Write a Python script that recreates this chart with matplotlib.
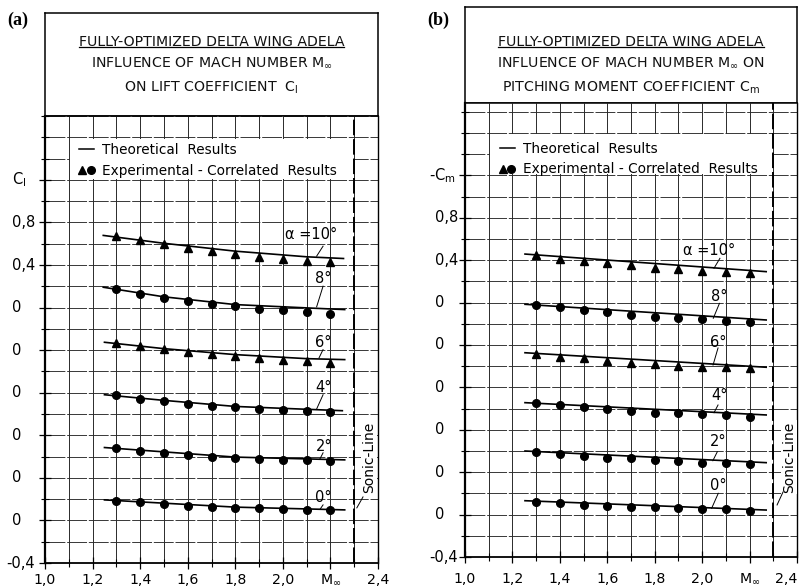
import matplotlib
matplotlib.use('Agg')
import matplotlib.pyplot as plt
import matplotlib.transforms as mtransforms
from matplotlib.lines import Line2D
from matplotlib.legend_handler import HandlerTuple
from matplotlib.patches import Rectangle

plt.rcParams['font.family'] = ['DejaVu Sans']
plt.rcParams['mathtext.default'] = 'regular'

# ---- data (y in the chart's own stacked scale) ----
mach_exp = [1.3, 1.4, 1.5, 1.6, 1.7, 1.8, 1.9, 2.0, 2.1, 2.2]
angle_labels = ['0°', '2°', '4°', '6°', '8°', 'α =10°']

cl_exp_0 = [0.187, 0.171, 0.155, 0.140, 0.130, 0.120, 0.115, 0.108, 0.099, 0.099]
cl_exp_2 = [0.679, 0.657, 0.638, 0.617, 0.600, 0.585, 0.576, 0.569, 0.569, 0.554]
cl_exp_4 = [1.175, 1.144, 1.118, 1.097, 1.071, 1.062, 1.049, 1.040, 1.024, 1.015]
cl_exp_6 = [1.668, 1.642, 1.611, 1.583, 1.564, 1.542, 1.526, 1.504, 1.495, 1.480]
cl_exp_8 = [2.179, 2.132, 2.091, 2.059, 2.038, 2.019, 1.988, 1.981, 1.956, 1.944]
cl_exp_10 = [2.671, 2.631, 2.593, 2.562, 2.530, 2.508, 2.474, 2.452, 2.436, 2.426]

cl_th_mach_0 = [1.25, 1.8, 2.26]
cl_th_0 = [0.193, 0.125, 0.099]
cl_th_mach_2 = [1.25, 1.8, 2.26]
cl_th_2 = [0.685, 0.595, 0.569]
cl_th_mach_4 = [1.25, 1.5, 1.8, 2.25]
cl_th_4 = [1.181, 1.128, 1.071, 1.031]
cl_th_mach_6 = [1.25, 1.5, 1.8, 2.1, 2.26]
cl_th_6 = [1.674, 1.614, 1.558, 1.520, 1.511]
cl_th_mach_8 = [1.245, 1.5, 1.8, 2.1, 2.26]
cl_th_8 = [2.191, 2.101, 2.028, 1.997, 1.981]
cl_th_mach_10 = [1.245, 1.5, 1.8, 2.1, 2.255]
cl_th_10 = [2.678, 2.604, 2.530, 2.477, 2.461]

cm_exp_0 = [0.122, 0.106, 0.091, 0.081, 0.075, 0.069, 0.059, 0.050, 0.050, 0.037]
cm_exp_2 = [0.593, 0.569, 0.553, 0.537, 0.531, 0.515, 0.508, 0.490, 0.484, 0.477]
cm_exp_4 = [1.050, 1.034, 1.012, 0.993, 0.977, 0.961, 0.955, 0.946, 0.940, 0.924]
cm_exp_6 = [1.515, 1.490, 1.474, 1.452, 1.433, 1.418, 1.405, 1.395, 1.395, 1.380]
cm_exp_8 = [1.977, 1.955, 1.930, 1.908, 1.883, 1.867, 1.852, 1.842, 1.829, 1.820]
cm_exp_10 = [2.449, 2.411, 2.395, 2.371, 2.355, 2.329, 2.314, 2.301, 2.292, 2.276]

cm_th_mach = [1.253, 2.27]
cm_th_0 = [0.131, 0.043]
cm_th_2 = [0.600, 0.490]
cm_th_4 = [1.056, 0.940]
cm_th_6 = [1.527, 1.390]
cm_th_8 = [1.984, 1.836]
cm_th_10 = [2.458, 2.292]

xtick_pos = [1.0, 1.2, 1.4, 1.6, 1.8, 2.0, 2.2, 2.4]
xtick_labels = ['1,0', '1,2', '1,4', '1,6', '1,8', '2,0', 'M$_\\infty$', '2,4']
ytick_pos = [-0.4, 0.0, 0.4, 0.8, 1.2, 1.6, 2.0, 2.4, 2.8, 3.2]
cl_ytick_labels = ['-0,4', '0', '0', '0', '0', '0', '0', '0,4', '0,8', 'C$_l$']
cm_ytick_labels = ['-0,4', '0', '0', '0', '0', '0', '0', '0,4', '0,8', '-C$_m$']
sonic_mach = 2.3

title_a = ['FULLY-OPTIMIZED DELTA WING ADELA',
           'INFLUENCE OF MACH NUMBER M$_\\infty$',
           'ON LIFT COEFFICIENT  C$_l$']
title_b = ['FULLY-OPTIMIZED DELTA WING ADELA',
           'INFLUENCE OF MACH NUMBER M$_\\infty$ ON',
           'PITCHING MOMENT COEFFICIENT C$_m$']

W, H = 805, 588
fig = plt.figure(figsize=(W / 100, H / 100), dpi=100)
INK = '#111111'


def px_axes(left, top, right, bottom):
    return fig.add_axes([left / W, 1 - bottom / H, (right - left) / W, (bottom - top) / H])


def draw_panel(box, ax, letter, letter_x, titles, title_y, ylabels, label_x, ytop,
               exp, th, markers, label_pos, sonic_pos, legend_anchor, xpad):
    # title box
    box.set_xticks([])
    box.set_yticks([])
    for s in box.spines.values():
        s.set_linewidth(1.1)
    texts = []
    for t, y in zip(titles, title_y):
        texts.append(box.text(0.5, y, t, transform=box.transAxes, ha='center',
                              va='center', fontsize=10.2, color=INK))
    fig.text(letter_x / W, 1 - 20 / H, letter, family='Liberation Serif',
             fontweight='bold', fontsize=13, va='center')

    ax.set_xlim(1.0, 2.4)
    ax.set_ylim(-0.4, ytop)
    ax.set_xticks(xtick_pos, xtick_labels, fontsize=10.2)
    ax.set_xticks([1.0 + 0.1 * i for i in range(15)], minor=True)
    ax.set_yticks(ytick_pos, [''] * len(ytick_pos))
    ax.set_yticks([-0.4 + 0.2 * i for i in range(22)], minor=True)
    ax.tick_params(which='major', direction='inout', length=8, width=0.9)
    ax.tick_params(which='minor', direction='inout', length=6, width=0.8)
    ax.tick_params(axis='x', pad=xpad)

    # grid paper
    ax.vlines([1.0 + 0.1 * i for i in range(1, 14)], -0.4, ytop, color='#2a2a2a',
              lw=0.7, zorder=0.5)
    ax.hlines([-0.4 + 0.2 * i for i in range(1, 22)], 1.0, 2.4, color='#2a2a2a',
              lw=0.65, ls=(0, (22, 2)), zorder=0.5)
    ax.spines['left'].set_linewidth(1.6)
    ax.spines['bottom'].set_linewidth(1.3)
    ax.spines['right'].set_linewidth(1.0)
    ax.spines['top'].set_linewidth(1.1)

    trans = mtransforms.blended_transform_factory(fig.transFigure, ax.transData)
    for pos, lab in zip(ytick_pos, ylabels):
        x = label_x - (6 if lab.startswith('-') else 0)
        ax.text(x / W, pos, lab, transform=trans, ha='left', va='center',
                fontsize=10.5, clip_on=False)

    # white legend area
    ax.add_patch(Rectangle((1.104, 3.212), 1.192, 0.376, facecolor='white',
                           edgecolor='none', zorder=1))

    ax.axvline(sonic_mach, color='black', lw=1.4, ls=(0, (8, 2)), zorder=2)

    for (mx, my), ey, mk in zip(th, exp, markers):
        ax.plot(mx, my, color='black', lw=1.2, zorder=3)
        ax.plot(mach_exp, ey, ls='none', marker=mk, color='black',
                ms=6 if mk == '^' else 5.5, zorder=4)

    for lab, (tx, ty, x0, y0, x1, y1) in zip(angle_labels, label_pos):
        ax.text(tx, ty, lab, ha='center', va='center', fontsize=10.5, zorder=5)
        ax.plot([x0, x1], [y0, y1], color='black', lw=0.7, zorder=5)

    sx, sy, sx0, sy0, sx1, sy1 = sonic_pos
    ax.text(sx, sy, 'Sonic-Line', rotation=90, ha='center', va='center',
            fontsize=10, zorder=5,
            bbox=dict(facecolor='white', edgecolor='none', pad=1))
    ax.plot([sx0, sx1], [sy0, sy1], color='black', lw=0.7, zorder=5)

    handles = [Line2D([], [], color='black', lw=1.1),
               (Line2D([], [], ls='none', marker='^', color='black', ms=5.5),
                Line2D([], [], ls='none', marker='o', color='black', ms=5.5))]
    ax.legend(handles, ['Theoretical  Results', 'Experimental - Correlated  Results'],
              handler_map={tuple: HandlerTuple(ndivide=None, pad=0.1)},
              loc='upper left', bbox_to_anchor=legend_anchor, frameon=False,
              fontsize=9.8, handlelength=1.1, handletextpad=0.6,
              labelspacing=0.5, borderpad=0, borderaxespad=0)
    return texts


box_a = px_axes(45, 13, 378, 116)
ax_a = px_axes(45, 116, 378, 563)
box_b = px_axes(465, 7, 797, 103)
ax_b = px_axes(465, 103, 797, 557)

th_a = [(cl_th_mach_0, cl_th_0), (cl_th_mach_2, cl_th_2), (cl_th_mach_4, cl_th_4),
        (cl_th_mach_6, cl_th_6), (cl_th_mach_8, cl_th_8), (cl_th_mach_10, cl_th_10)]
exp_a = [cl_exp_0, cl_exp_2, cl_exp_4, cl_exp_6, cl_exp_8, cl_exp_10]
th_b = [(cm_th_mach, cm_th_0), (cm_th_mach, cm_th_2), (cm_th_mach, cm_th_4),
        (cm_th_mach, cm_th_6), (cm_th_mach, cm_th_8), (cm_th_mach, cm_th_10)]
exp_b = [cm_exp_0, cm_exp_2, cm_exp_4, cm_exp_6, cm_exp_8, cm_exp_10]

lab_a = [(2.169, 0.212, 2.169, 0.146, 2.156, 0.104),
         (2.173, 0.692, 2.169, 0.635, 2.156, 0.579),
         (2.171, 1.252, 2.169, 1.181, 2.142, 1.047),
         (2.169, 1.675, 2.169, 1.605, 2.152, 1.527),
         (2.171, 2.273, 2.169, 2.201, 2.142, 2.007),
         (2.118, 2.687, 2.169, 2.577, 2.142, 2.483)]
lab_b = [(2.069, 0.270, 2.068, 0.201, 2.040, 0.059),
         (2.067, 0.690, 2.064, 0.593, 2.045, 0.508),
         (2.075, 1.119, 2.067, 1.034, 2.050, 0.961),
         (2.069, 1.628, 2.067, 1.572, 2.046, 1.411),
         (2.071, 2.053, 2.073, 1.993, 2.047, 1.852),
         (2.029, 2.496, 2.075, 2.418, 2.050, 2.324)]

t_a = draw_panel(box_a, ax_a, '(a)', 7, title_a, [0.721, 0.515, 0.272], cl_ytick_labels,
                 12, 3.8, exp_a, th_a, ['o', 'o', 'o', '^', 'o', '^'], lab_a,
                 (2.362, 0.588, 2.337, 0.221, 2.311, 0.118), (0.102, 0.94), 3)
t_b = draw_panel(box_b, ax_b, '(b)', 427, title_b, [0.639, 0.417, 0.156], cm_ytick_labels,
                 435, 3.883, exp_b, th_b, ['o', 'o', 'o', '^', 'o', '^'], lab_b,
                 (2.366, 0.543, 2.341, 0.213, 2.316, 0.091), (0.105, 0.915), 6.5)

# the last Mach label of panel (b) sits against the page edge
ax_b.get_xticklabels()[-1].set_horizontalalignment('right')

# underline the first title line of each box
fig.canvas.draw()
inv = fig.transFigure.inverted()
for t in (t_a[0], t_b[0]):
    bb = t.get_window_extent()
    (x0, y0), (x1, _) = inv.transform([(bb.x0, bb.y0 + 1.5), (bb.x1, bb.y0)])
    fig.add_artist(Line2D([x0, x1], [y0, y0], color='black', lw=0.9))

fig.savefig('out.png', dpi=100)
